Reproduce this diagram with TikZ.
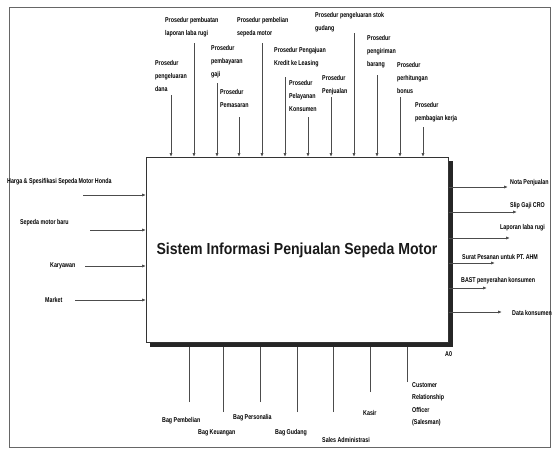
\documentclass[tikz,border=0pt]{standalone}
\usepackage{fontspec}
\setmainfont{Liberation Sans}
\newfontfamily\lblfont[FakeStretch=0.76]{Liberation Sans}
\newfontfamily\titlefont[FakeStretch=0.88]{Liberation Sans}
\usetikzlibrary{arrows.meta}
\tikzset{
  lbl/.style={font=\lblfont\bfseries\fontsize{7}{13}\selectfont, inner sep=0pt, align=left, text=black},
  arr/.style={draw=black!70, line width=0.8pt, -{Latex[length=4pt,width=3.2pt]}},
  ln/.style={draw=black!70, line width=0.8pt},
}
\begin{document}
\begin{tikzpicture}[x=1pt,y=-1pt]
\useasboundingbox (0,0) rectangle (555,448);
\draw[black!60, line width=1pt] (9,7) rectangle (550,447);
% main box
\node[draw=black!80, line width=0.8pt, minimum width=302pt, minimum height=185pt, anchor=north west, inner sep=0pt] (box) at (146,157) {};
\fill[black!85] ([yshift=-4pt]box.north east) rectangle ([xshift=4pt,yshift=-4pt]box.south east);
\fill[black!85] ([xshift=4pt]box.south west) rectangle ([xshift=4pt,yshift=-4pt]box.south east);
\node[font=\titlefont\bfseries\fontsize{16}{18}\selectfont, text=black!90] (title) at (297,250) {Sistem Informasi Penjualan Sepeda Motor};
% top controls
\foreach \n/\x/\y in {1/171/95, 2/194/43, 3/217/83, 4/239/117, 5/262/43, 6/285/77, 7/308/117, 8/331/97, 9/354/33, 10/377/75, 11/400/97, 12/423/127}{
  \coordinate (t\n) at (\x,\y);
  \draw[arr] (t\n) -- (t\n |- box.north);
}
\node[lbl, anchor=north west] (c1) at (155,60) {Prosedur\\pengeluaran\\dana};
\node[lbl, anchor=north west] (c2) at (165,17) {Prosedur pembuatan\\laporan laba rugi};
\node[lbl, anchor=north west] (c3) at (211,45) {Prosedur\\pembayaran\\gaji};
\node[lbl, anchor=north west] (c4) at (220,89) {Prosedur\\Pemasaran};
\node[lbl, anchor=north west] (c5) at (237,17) {Prosedur pembelian\\sepeda motor};
\node[lbl, anchor=north west] (c6) at (274,47) {Prosedur Pengajuan\\Kredit ke Leasing};
\node[lbl, anchor=north west] (c7) at (289,80) {Prosedur\\Pelayanan\\Konsumen};
\node[lbl, anchor=north west] (c8) at (322,75) {Prosedur\\Penjualan};
\node[lbl, anchor=north west] (c9) at (315,12) {Prosedur pengeluaran stok\\gudang};
\node[lbl, anchor=north west] (c10) at (367,35) {Prosedur\\pengiriman\\barang};
\node[lbl, anchor=north west] (c11) at (397,62) {Prosedur\\perhitungan\\bonus};
\node[lbl, anchor=north west] (c12) at (415,102) {Prosedur\\pembagian kerja};
% left inputs
\foreach \n/\x/\y in {1/83/195, 2/90/230, 3/85/266, 4/75/300}{
  \coordinate (i\n) at (\x,\y);
  \draw[arr] (i\n) -- (i\n -| box.west);
}
\node[lbl, anchor=west] (in1) at (7,182) {Harga \& Spesifikasi Sepeda Motor Honda};
\node[lbl, anchor=west] (in2) at (20,223) {Sepeda motor baru};
\node[lbl, anchor=west] (in3) at (50,266) {Karyawan};
\node[lbl, anchor=west] (in4) at (45,300) {Market};
% right outputs
\foreach \n/\x/\y in {1/508/187, 2/517/212, 3/510/238, 4/495/263, 5/487/288, 6/502/312}{
  \coordinate (o\n) at (\x,\y);
  \draw[arr] (o\n -| box.east) -- (o\n);
}
\node[lbl, anchor=west] (out1) at (510,183) {Nota Penjualan};
\node[lbl, anchor=west] (out2) at (510,206) {Slip Gaji CRO};
\node[lbl, anchor=west] (out3) at (500,228) {Laporan laba rugi};
\node[lbl, anchor=west] (out4) at (462,257) {Surat Pesanan untuk PT. AHM};
\node[lbl, anchor=west] (out5) at (461,281) {BAST penyerahan konsumen};
\node[lbl, anchor=west] (out6) at (512,313) {Data konsumen};
% bottom mechanisms
\foreach \n/\x/\y in {1/189/402, 2/223/412, 3/260/402, 4/297/412, 5/333/412, 6/370/392, 7/407/382}{
  \coordinate (m\n) at (\x,\y);
  \draw[ln] (m\n) -- ([yshift=-4pt]m\n |- box.south);
}
\node[lbl, anchor=west] (b1) at (162,421) {Bag Pembelian};
\node[lbl, anchor=west] (b2) at (198,433) {Bag Keuangan};
\node[lbl, anchor=west] (b3) at (233,418) {Bag Personalia};
\node[lbl, anchor=west] (b4) at (275,433) {Bag Gudang};
\node[lbl, anchor=west] (b5) at (322,440) {Sales Administrasi};
\node[lbl, anchor=west] (b6) at (363,413) {Kasir};
\node[lbl, anchor=north west, font=\lblfont\bfseries\fontsize{7}{12.5}\selectfont] (b7) at (412,382) {Customer\\Relationship\\Officer\\(Salesman)};
\node[lbl, anchor=west] (a0) at (445,354) {A0};
\end{tikzpicture}
\end{document}
